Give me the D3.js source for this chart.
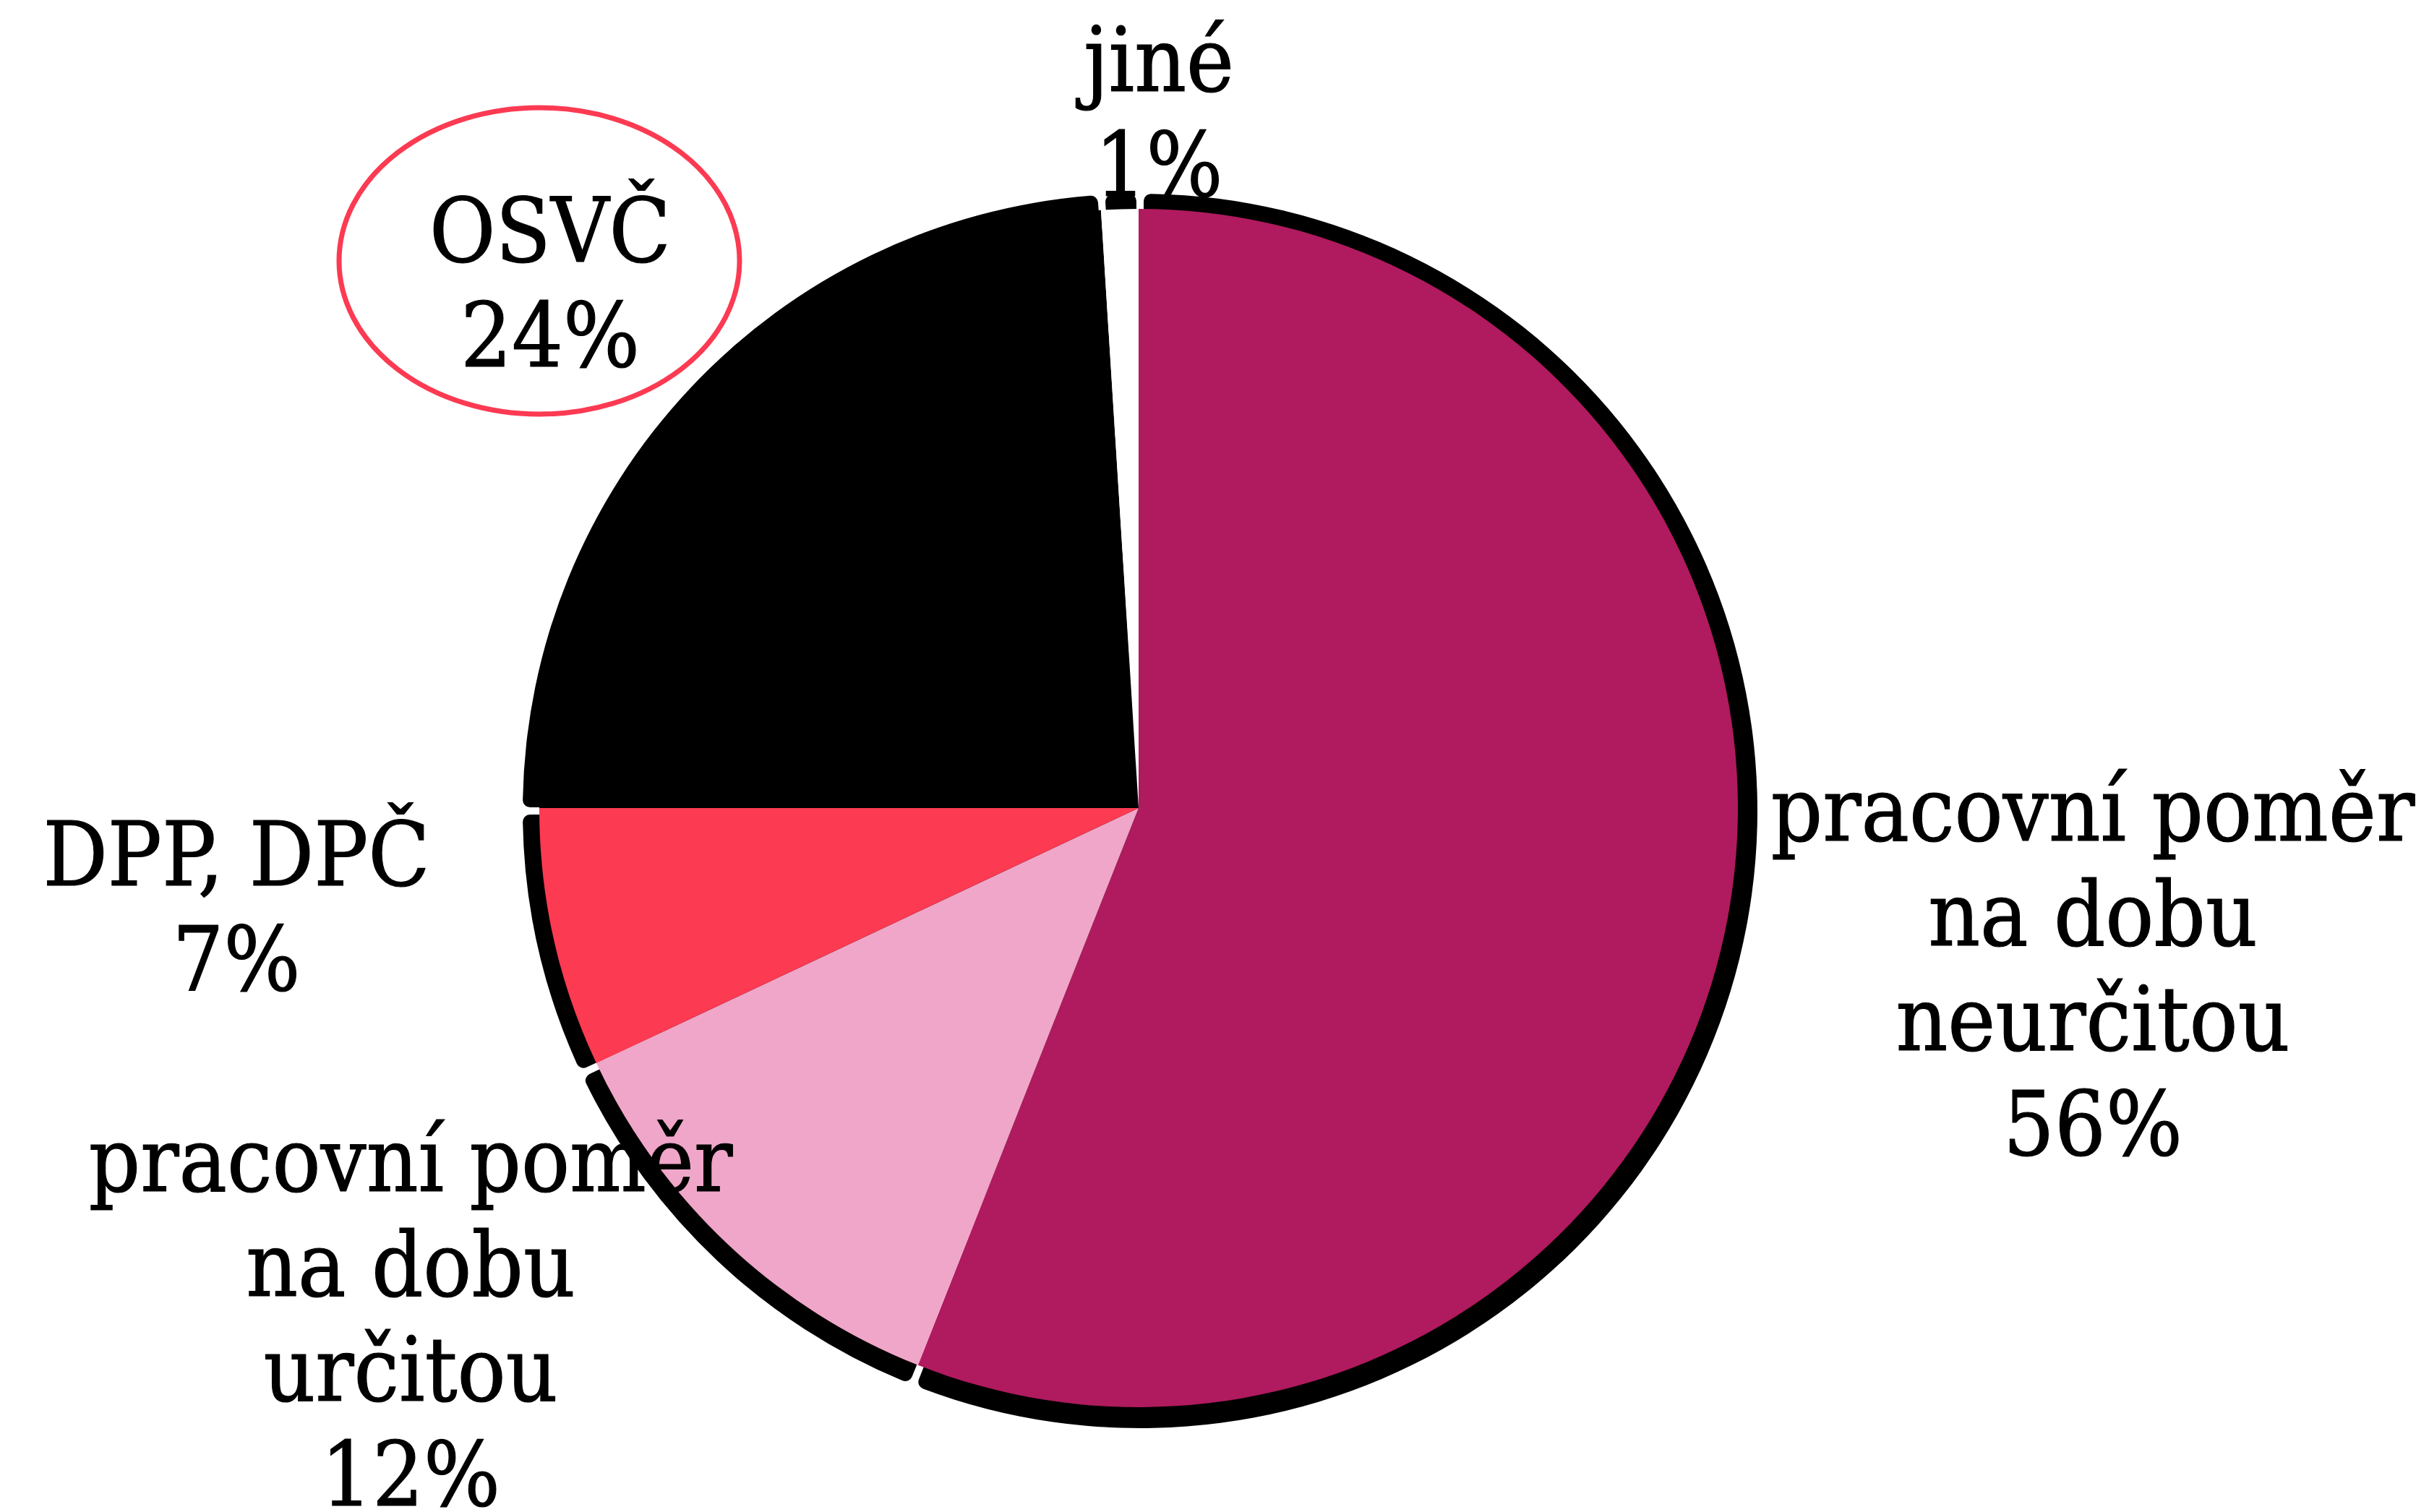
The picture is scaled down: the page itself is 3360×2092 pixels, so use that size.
<!DOCTYPE html>
<html>
<head>
<meta charset="utf-8">
<script src="https://cdn.jsdelivr.net/npm/d3@7"></script>
<style>
  html, body { margin: 0; padding: 0; background: #fff; }
  svg { display: block; }
  text {
    font-family: "DejaVu Serif Condensed", "DejaVu Serif", serif;
    font-stretch: condensed;
    font-size: 124px;
    fill: #000;
    stroke: #000;
    stroke-width: 1.2px;
  }
</style>
</head>
<body>
<svg id="chart" width="3360" height="2092"></svg>
<script>
// slices, clockwise from 12 o'clock
const categories = ['neurcita', 'urcita', 'dpp', 'osvc', 'jine'];
const labels = [
  ['pracovní poměr', 'na dobu', 'neurčitou'],
  ['pracovní poměr', 'na dobu', 'určitou'],
  ['DPP, DPČ'],
  ['OSVČ'],
  ['jiné']
];
const shares = [56, 12, 7, 24, 1];

const colors = ['#B01A5E', '#F0A6C8', '#FC3A52', '#000000', '#FFFFFF'];

const svg = d3.select('#chart');

const cx = 1575, cy = 1118, radius = 829;

const data = categories.map((c, i) => ({ key: c, lines: labels[i], value: shares[i] }));

const pie = d3.pie().sort(null).value(d => d.value);
const arcs = pie(data);

// shadow behind each slice
const shadowArc = d3.arc()
  .innerRadius(0)
  .outerRadius(radius + 25)
  .cornerRadius(10)
  .padAngle(0.012);

svg.append('g')
  .attr('transform', `translate(${cx + 2},${cy + 4})`)
  .selectAll('path')
  .data(arcs)
  .join('path')
  .attr('d', shadowArc)
  .attr('fill', '#000');

const arc = d3.arc().innerRadius(0).outerRadius(radius);

svg.append('g')
  .attr('transform', `translate(${cx},${cy})`)
  .selectAll('path')
  .data(arcs)
  .join('path')
  .attr('d', arc)
  .attr('fill', (d, i) => colors[i]);

// highlight ring around OSVČ
svg.append('ellipse')
  .attr('cx', 746)
  .attr('cy', 361)
  .attr('rx', 277)
  .attr('ry', 212)
  .attr('fill', 'none')
  .attr('stroke', '#FC3A52')
  .attr('stroke-width', 7);

// label anchors: centre x and first baseline
const labelPos = {
  neurcita: [2895, 1163],
  urcita: [568, 1648],
  dpp: [327, 1225],
  osvc: [761, 362],
  jine: [1603, 126]
};
const lineH = 145;

const lbl = svg.append('g');
arcs.forEach(a => {
  const [x, y] = labelPos[a.data.key];
  const t = lbl.append('text')
    .attr('x', x)
    .attr('y', y)
    .attr('text-anchor', 'middle');
  const lines = a.data.lines.concat([a.data.value + '%']);
  lines.forEach((s, j) => {
    t.append('tspan')
      .attr('x', x)
      .attr('y', y + j * lineH)
      .text(s);
  });
});
</script>
</body>
</html>
